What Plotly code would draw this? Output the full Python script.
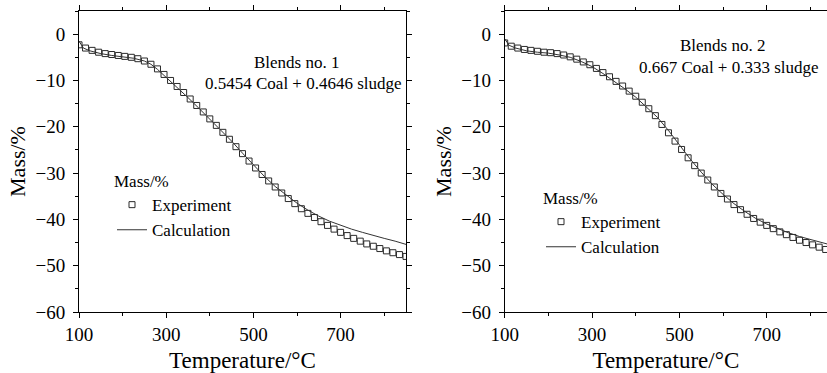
import plotly.graph_objects as go

# ---------------- data ----------------
# Blend 1 : experiment (every 15 °C)
t_exp1 = [100, 115, 130, 145, 160, 175, 190, 205, 220, 235, 250, 265, 280, 295, 310,
          325, 340, 355, 370, 385, 400, 415, 430, 445, 460, 475, 490, 505, 520, 535,
          550, 565, 580, 595, 610, 625, 640, 655, 670, 685, 700, 715, 730, 745, 760,
          775, 790, 805, 820, 835, 850]
m_exp1 = [-2.3, -3.0, -3.5, -3.9, -4.2, -4.4, -4.6, -4.8, -5.0, -5.3, -5.8, -6.5, -7.5, -8.7, -10.0,
          -11.3, -12.6, -14.0, -15.4, -16.8, -18.3, -19.7, -21.2, -22.7, -24.3, -25.8, -27.4, -28.9, -30.3, -31.7,
          -33.0, -34.3, -35.5, -36.6, -37.7, -38.7, -39.6, -40.5, -41.3, -42.1, -42.8, -43.5, -44.1, -44.7, -45.3,
          -45.8, -46.3, -46.8, -47.2, -47.6, -48.0]
# Blend 1 : calculation
t_cal1 = [100, 110, 125, 150, 175, 200, 225, 250, 265, 280, 300, 325, 350, 375, 400, 425, 450,
          475, 500, 525, 550, 575, 600, 625, 650, 675, 700, 725, 750, 775, 800, 825, 850]
m_cal1 = [-1.5, -3.0, -3.6, -4.2, -4.6, -4.9, -5.2, -5.8, -6.5, -7.6, -9.3, -11.5, -13.7, -16.0, -18.3, -20.6, -23.1,
          -25.7, -28.3, -30.7, -32.9, -34.8, -36.5, -38.0, -39.3, -40.4, -41.3, -42.1, -42.8, -43.5, -44.1, -44.7, -45.4]

# Blend 2 : experiment
t_exp2 = [100, 115, 130, 145, 160, 175, 190, 205, 220, 235, 250, 265, 280, 295, 310,
          325, 340, 355, 370, 385, 400, 415, 430, 445, 460, 475, 490, 505, 520, 535,
          550, 565, 580, 595, 610, 625, 640, 655, 670, 685, 700, 715, 730, 745, 760,
          775, 790, 805, 820, 835]
m_exp2 = [-1.9, -2.6, -3.0, -3.3, -3.5, -3.7, -3.9, -4.0, -4.2, -4.5, -4.9, -5.4, -6.0, -6.6, -7.4,
          -8.3, -9.2, -10.2, -11.2, -12.3, -13.4, -14.7, -16.1, -17.6, -19.5, -21.3, -23.1, -24.9, -26.7, -28.4,
          -30.0, -31.5, -33.0, -34.4, -35.6, -36.8, -37.9, -38.9, -39.8, -40.6, -41.3, -42.0, -42.7, -43.3, -43.9,
          -44.5, -45.0, -45.5, -46.0, -46.5]
# Blend 2 : calculation
t_cal2 = [100, 110, 125, 150, 175, 200, 225, 250, 275, 300, 325, 350, 375, 400, 425, 450,
          475, 500, 525, 550, 575, 600, 625, 650, 675, 700, 725, 750, 775, 800, 838]
m_cal2 = [-1.0, -2.4, -3.0, -3.6, -3.9, -4.1, -4.5, -5.0, -5.9, -7.0, -8.5, -10.1, -11.8, -13.6, -15.7, -18.0,
          -20.8, -23.9, -27.0, -29.8, -32.4, -34.6, -36.6, -38.3, -39.8, -41.0, -42.0, -42.9, -43.7, -44.4, -45.3]

x_ticks = [100, 300, 500, 700]
y_ticks = [0, -10, -20, -30, -40, -50, -60]
blend_titles = ["Blends no. 1", "Blends no. 2"]
blend_mixes = ["0.5454 Coal + 0.4646 sludge", "0.667 Coal + 0.333 sludge"]

# ---------------- figure ----------------
W, H = 827, 373
FONT = "Liberation Serif"

def px(x):
    return x / W

def py(y):
    return 1 - y / H

fig = go.Figure()

mk = dict(symbol="square-open", size=6, color="#2a2a2a", line=dict(width=1, color="#2a2a2a"))
ln = dict(color="#333333", width=1)

fig.add_trace(go.Scatter(x=t_exp1, y=m_exp1, mode="markers", marker=mk, name="Experiment",
                         xaxis="x", yaxis="y", legend="legend"))
fig.add_trace(go.Scatter(x=t_cal1, y=m_cal1, mode="lines", line=ln, name="Calculation",
                         xaxis="x", yaxis="y", legend="legend"))
fig.add_trace(go.Scatter(x=t_exp2, y=m_exp2, mode="markers", marker=mk, name="Experiment",
                         xaxis="x2", yaxis="y2", legend="legend2"))
fig.add_trace(go.Scatter(x=t_cal2, y=m_cal2, mode="lines", line=ln, name="Calculation",
                         xaxis="x2", yaxis="y2", legend="legend2"))

ydom = [py(312), py(11)]

def xax(dom, rng, anchor):
    return dict(domain=dom, range=rng, anchor=anchor, automargin=False,
                tickvals=x_ticks, ticks="outside", ticklen=5, tickwidth=1, tickcolor="black",
                minor=dict(dtick=100, tick0=100, ticks="outside", ticklen=3, tickcolor="black"),
                showline=True, linecolor="black", linewidth=1, mirror="ticks",
                showgrid=False, zeroline=False,
                tickfont=dict(family=FONT, size=19, color="black"),
                title=dict(text="Temperature/°C", font=dict(family=FONT, size=23, color="black"), standoff=15))

def yax(dom, anchor):
    return dict(domain=dom, range=[-60, 5], anchor=anchor, automargin=False,
                tickvals=y_ticks, ticks="outside", ticklen=5, tickwidth=1, tickcolor="black",
                minor=dict(dtick=5, tick0=0, ticks="outside", ticklen=3, tickcolor="black"),
                showline=True, linecolor="black", linewidth=1, mirror="ticks",
                showgrid=False, zeroline=False, ticklabelstandoff=4,
                tickfont=dict(family=FONT, size=19, color="black"),
                title=dict(text="Mass/%", font=dict(family=FONT, size=22, color="black"), standoff=3))

fig.update_layout(
    template="none",
    width=W, height=H, margin=dict(l=0, r=0, t=0, b=0, autoexpand=False),
    paper_bgcolor="white", plot_bgcolor="white",
    font=dict(family=FONT, color="black"),
    xaxis=xax([px(79), px(406)], [100, 850], "y"),
    yaxis=yax(ydom, "x"),
    xaxis2=xax([px(504.7), 1.0], [100, 838], "y2"),
    yaxis2=yax(ydom, "x2"),
    legend=dict(x=px(112), y=py(165), xanchor="left", yanchor="top",
                bgcolor="rgba(0,0,0,0)", borderwidth=0,
                font=dict(family=FONT, size=17, color="black"),
                title=dict(text="Mass/%", font=dict(family=FONT, size=17, color="black"))),
    legend2=dict(x=px(541), y=py(182), xanchor="left", yanchor="top",
                 bgcolor="rgba(0,0,0,0)", borderwidth=0,
                 font=dict(family=FONT, size=17, color="black"),
                 title=dict(text="Mass/%", font=dict(family=FONT, size=17, color="black"))),
    showlegend=True,
)

ann_pos = [((296, 62), (303, 83)), ((722, 46), (729, 67))]
for i in range(2):
    (x1, y1), (x2, y2) = ann_pos[i]
    fig.add_annotation(text=blend_titles[i], x=px(x1), y=py(y1), xref="paper", yref="paper",
                       showarrow=False, xanchor="center", yanchor="middle",
                       font=dict(family=FONT, size=17, color="black"))
    fig.add_annotation(text=blend_mixes[i], x=px(x2), y=py(y2), xref="paper", yref="paper",
                       showarrow=False, xanchor="center", yanchor="middle",
                       font=dict(family=FONT, size=17, color="black"))

fig.write_html("out.html", config={"displayModeBar": False},
               post_script="document.body.style.margin='0px';document.body.style.overflow='hidden';")
